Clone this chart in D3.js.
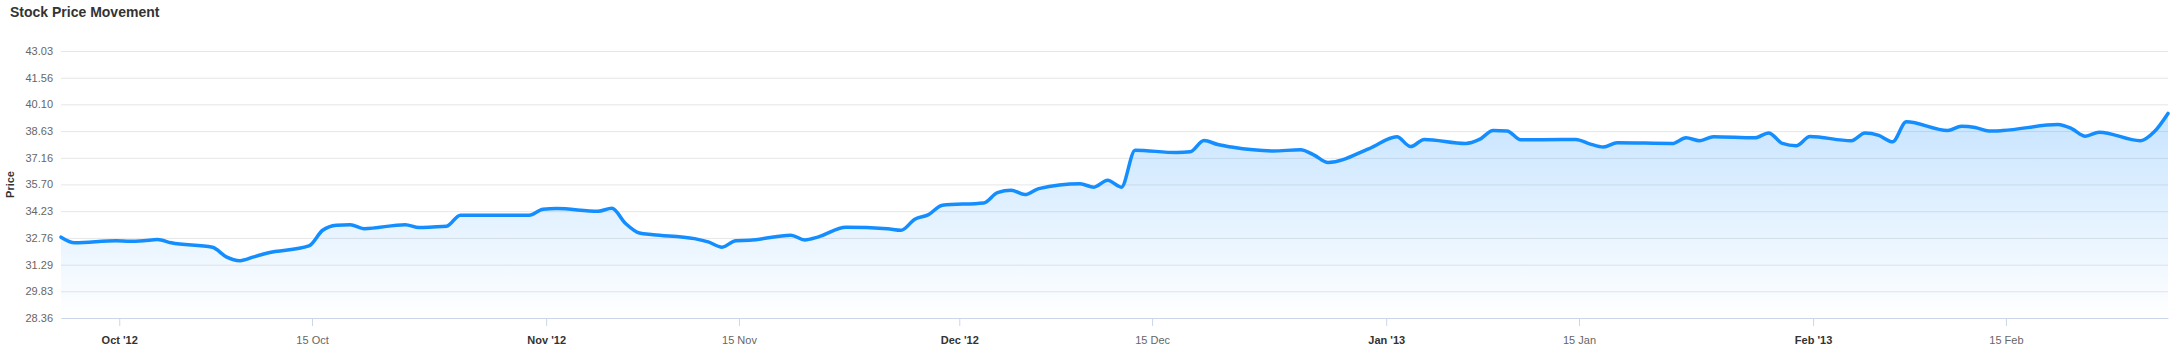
<!DOCTYPE html>
<html>
<head>
<meta charset="utf-8">
<script src="https://cdn.jsdelivr.net/npm/d3@7"></script>
<style>
  body { margin: 0; background: #fff; font-family: "Liberation Sans", Arial, Helvetica, sans-serif; }
  #chart svg { display: block; }
</style>
</head>
<body>
<div id="chart"></div>
<script>
// trading days (timestamps were made at local midnight, UTC+05:30)
var dates = [
  "2012-09-27","2012-09-28",
  "2012-10-01","2012-10-02","2012-10-03","2012-10-04","2012-10-05",
  "2012-10-08","2012-10-09","2012-10-10","2012-10-11","2012-10-12",
  "2012-10-15","2012-10-16","2012-10-17","2012-10-18","2012-10-19",
  "2012-10-22","2012-10-23","2012-10-24","2012-10-25","2012-10-26",
  "2012-10-31","2012-11-01","2012-11-02",
  "2012-11-05","2012-11-06","2012-11-07","2012-11-08","2012-11-09",
  "2012-11-12","2012-11-13","2012-11-14","2012-11-15","2012-11-16",
  "2012-11-19","2012-11-20","2012-11-21","2012-11-23",
  "2012-11-26","2012-11-27","2012-11-28","2012-11-29","2012-11-30",
  "2012-12-03","2012-12-04","2012-12-05","2012-12-06","2012-12-07",
  "2012-12-10","2012-12-11","2012-12-12","2012-12-13","2012-12-14",
  "2012-12-17","2012-12-18","2012-12-19","2012-12-20","2012-12-21",
  "2012-12-24","2012-12-26","2012-12-27","2012-12-28","2012-12-31",
  "2013-01-02","2013-01-03","2013-01-04",
  "2013-01-07","2013-01-08","2013-01-09","2013-01-10","2013-01-11",
  "2013-01-14","2013-01-15","2013-01-16","2013-01-17","2013-01-18",
  "2013-01-22","2013-01-23","2013-01-24","2013-01-25",
  "2013-01-28","2013-01-29","2013-01-30","2013-01-31","2013-02-01",
  "2013-02-04","2013-02-05","2013-02-06","2013-02-07","2013-02-08",
  "2013-02-11","2013-02-12","2013-02-13","2013-02-14","2013-02-15",
  "2013-02-19","2013-02-20","2013-02-21","2013-02-22",
  "2013-02-25","2013-02-26","2013-02-27"
];

var prices = [
  32.80, 32.49,
  32.61, 32.58, 32.61, 32.67, 32.49,
  32.25, 31.72, 31.51, 31.72, 31.93,
  32.32, 33.18, 33.46, 33.49, 33.27,
  33.49, 33.33, 33.36, 33.40, 34.01,
  34.01, 34.34, 34.37,
  34.23, 34.39, 33.55, 33.03, 32.94,
  32.72, 32.54, 32.25, 32.61, 32.63,
  32.91, 32.65, 32.82, 33.35,
  33.27, 33.18, 33.79, 34.04, 34.56,
  34.68, 35.25, 35.38, 35.14, 35.47,
  35.73, 35.55, 35.93, 35.55, 37.58,
  37.45, 37.49, 38.11, 37.89, 37.75,
  37.54, 37.60, 37.31, 36.90, 37.67,
  38.32, 37.78, 38.17,
  37.95, 38.17, 38.66, 38.64, 38.15,
  38.17, 38.17, 37.93, 37.75, 37.99,
  37.95, 38.26, 38.10, 38.32,
  38.26, 38.53, 37.95, 37.82, 38.33,
  38.10, 38.52, 38.39, 38.04, 39.14,
  38.66, 38.90, 38.83, 38.63, 38.66,
  38.99, 38.77, 38.35, 38.57,
  38.10, 38.59, 39.60
];

// y axis ticks
var yTicks = [28.36, 29.83, 31.29, 32.76, 34.23, 35.70, 37.16, 38.63, 40.10, 41.56, 43.03];

// x axis ticks (UTC midnight)
var xTicks = ["2012-10-01","2012-10-15","2012-11-01","2012-11-15","2012-12-01",
              "2012-12-15","2013-01-01","2013-01-15","2013-02-01","2013-02-15"];

var chartTitle = "Stock Price Movement";
var yTitle = "Price";

// dimensions
var width = 2178,
    height = 350;
var margin = {top: 51, right: 10, bottom: 32, left: 61};
var plotW = width - margin.left - margin.right;
var plotH = height - margin.top - margin.bottom;

var data = dates.map(function (d, i) {
  return {date: new Date(d + "T00:00:00+05:30"), price: prices[i]};
});

var svg = d3.select("#chart")
            .append("svg")
            .attr("width", width)
            .attr("height", height);

// gradient for the area
var grad = svg.append("defs")
              .append("linearGradient")
              .attr("id", "areaFill")
              .attr("x1", 0).attr("y1", 0)
              .attr("x2", 0).attr("y2", 1);
grad.append("stop").attr("offset", "0%").attr("stop-color", "#1890ff").attr("stop-opacity", 0.24);
grad.append("stop").attr("offset", "100%").attr("stop-color", "#1890ff").attr("stop-opacity", 0);

// title
svg.append("text")
   .attr("x", 10)
   .attr("y", 17)
   .style("font-size", "14px")
   .style("font-weight", "bold")
   .style("fill", "#333333")
   .text(chartTitle);

var g = svg.append("g")
           .attr("transform", "translate(" + margin.left + "," + margin.top + ")");

var xScale = d3.scaleTime()
               .domain(d3.extent(data, function (d) { return d.date; }))
               .range([0, plotW]);
var yScale = d3.scaleLinear()
               .domain([yTicks[0], yTicks[yTicks.length - 1]])
               .range([plotH, 0]);

// y axis with grid lines
var yAxis = g.append("g")
             .attr("class", "y-axis")
             .call(d3.axisLeft(yScale)
                     .tickValues(yTicks)
                     .tickSize(-plotW)
                     .tickPadding(8)
                     .tickFormat(d3.format(".2f")));
yAxis.select(".domain").remove();
yAxis.selectAll("line").attr("stroke", "#e6e6e6");
yAxis.selectAll("text")
     .style("font-size", "11px")
     .style("fill", "#666666");

// axis title
g.append("text")
 .attr("transform", "translate(" + (10 - margin.left + 4) + "," + (plotH / 2) + ") rotate(-90)")
 .attr("text-anchor", "middle")
 .style("font-size", "11px")
 .style("font-weight", "bold")
 .style("fill", "#333333")
 .text(yTitle);

// x axis
var tickDates = xTicks.map(function (t) { return new Date(t + "T00:00:00Z"); });
var fmtMonth = d3.utcFormat("%b '%y"),
    fmtDay = d3.utcFormat("%d %b");
var xAxis = g.append("g")
             .attr("class", "x-axis")
             .attr("transform", "translate(0," + plotH + ")")
             .call(d3.axisBottom(xScale)
                     .tickValues(tickDates)
                     .tickSizeInner(8)
                     .tickSizeOuter(0)
                     .tickPadding(10)
                     .tickFormat(function (d) {
                       return d.getUTCDate() === 1 ? fmtMonth(d) : fmtDay(d);
                     }));
xAxis.select(".domain").attr("stroke", "#ccd6eb");
xAxis.selectAll("line").attr("stroke", "#ccd6eb");
xAxis.selectAll("text")
     .style("font-size", "11px")
     .style("font-weight", function (d) { return d.getUTCDate() === 1 ? "bold" : "normal"; })
     .style("fill", function (d) { return d.getUTCDate() === 1 ? "#333333" : "#666666"; });

// area + line
var area = d3.area()
             .curve(d3.curveMonotoneX)
             .x(function (d) { return xScale(d.date); })
             .y0(plotH)
             .y1(function (d) { return yScale(d.price); });
var line = d3.line()
             .curve(d3.curveMonotoneX)
             .x(function (d) { return xScale(d.date); })
             .y(function (d) { return yScale(d.price); });

g.append("path")
 .datum(data)
 .attr("d", area)
 .attr("fill", "url(#areaFill)");

g.append("path")
 .datum(data)
 .attr("d", line)
 .attr("fill", "none")
 .attr("stroke", "#148eff")
 .attr("stroke-width", 3.5)
 .attr("stroke-linejoin", "round")
 .attr("stroke-linecap", "round");
</script>
</body>
</html>
